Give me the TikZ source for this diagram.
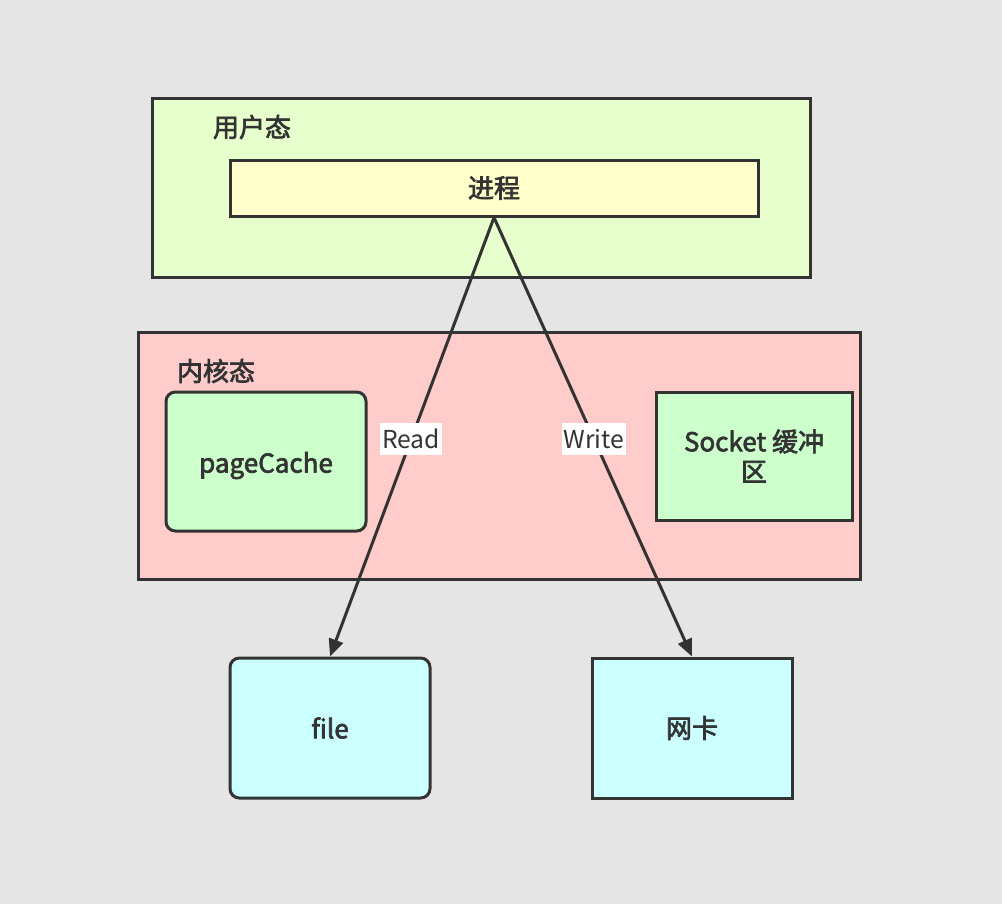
\documentclass[tikz,border=0pt]{standalone}
\usepackage{fontspec}
\setmainfont{Noto Sans CJK SC}
\newfontfamily\medfont{Noto Sans CJK SC}[FakeBold=2.5]
\usetikzlibrary{arrows.meta}
\definecolor{bg}{HTML}{E5E5E5}
\definecolor{usr}{HTML}{E6FFCC}
\definecolor{proc}{HTML}{FFFFCC}
\definecolor{kern}{HTML}{FFCCCC}
\definecolor{grn}{HTML}{CCFFCC}
\definecolor{cyn}{HTML}{CCFFFF}
\definecolor{ink}{HTML}{333333}
\tikzset{
  box/.style={draw=ink, line width=2.25pt, inner sep=0pt, text=ink, font=\medfont\fontsize{19.5}{22.5}\selectfont, align=center},
  rbox/.style={box, rounded corners=7pt},
  lbl/.style={text=ink, font=\medfont\fontsize{19.5}{22}\selectfont, inner sep=0pt},
  conn/.style={draw=ink, line width=2.25pt, -{Triangle[length=13pt,width=11pt]}, shorten <=-1pt},
  edgelbl/.style={fill=white, text=ink, font=\fontsize{18.5}{20}\selectfont, inner sep=1.5pt, minimum height=24pt}
}
\begin{document}
\begin{tikzpicture}[x=0.75pt,y=-0.75pt]
\fill[bg] (0,0) rectangle (1002,904);
\useasboundingbox (0,0) rectangle (1002,904);
\node[box, fill=usr, minimum width=493.5pt, minimum height=134.25pt] (user) at (481,187.5) {};
\node[lbl] (userlbl) at (252,127) {用户态};
\node[box, fill=proc, minimum width=396pt, minimum height=42pt] (proc) at (494,188) {进程};
\node[box, fill=kern, minimum width=541.5pt, minimum height=185.25pt] (kern) at (499,455.5) {};
\node[lbl] (kernlbl) at (216,371) {内核态};
\node[rbox, fill=grn, minimum width=150pt, minimum height=104.25pt] (page) at (266,461.5) {\raisebox{-3pt}[\height][\depth]{pageCache}};
\node[box, fill=grn, minimum width=147pt, minimum height=96pt] (sock) at (754,456) {Socket 缓冲\\区};
\node[rbox, fill=cyn, minimum width=150pt, minimum height=105pt] (file) at (330,728) {file};
\node[box, fill=cyn, minimum width=150pt, minimum height=105pt] (nic) at (692,728) {网卡};
\draw[conn] (proc.south) -- node[edgelbl, pos=0.505] (rd) {Read} (file.north);
\draw[conn] (proc.south) -- node[edgelbl, pos=0.505] (wr) {Write} (nic.north);
\end{tikzpicture}
\end{document}
